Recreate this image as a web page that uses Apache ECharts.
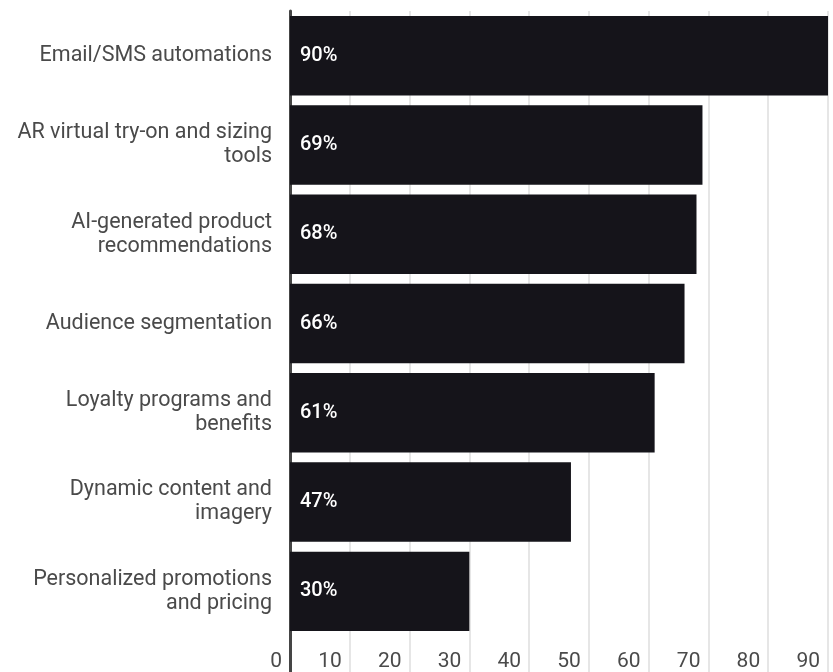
<!DOCTYPE html>
<html>
<head>
<meta charset="utf-8">
<script src="https://cdn.jsdelivr.net/npm/echarts@6/dist/echarts.min.js"></script>
<style>
  html, body { margin: 0; padding: 0; background: #ffffff; }
  #chart { width: 833px; height: 672px; }
</style>
</head>
<body>
<div id="chart"></div>
<script>
// Share of respondents using each personalization tactic (%)
const categories = [
  'Email/SMS automations',
  'AR virtual try-on and sizing\ntools',
  'AI-generated product\nrecommendations',
  'Audience segmentation',
  'Loyalty programs and\nbenefits',
  'Dynamic content and\nimagery',
  'Personalized promotions\nand pricing'
];
const values = [90, 69, 68, 66, 61, 47, 30];
const axisMin = 0;
const axisMax = 90;
const axisStep = 10;

const FONT = 'Roboto, "Noto Sans", sans-serif';
const AXIS_DARK = '#454545';
const TEXT_GREY = '#4a4a4a';
const GRID_LIGHT = '#dedede';
const BAR_COLOR = '#15141a';

const chart = echarts.init(document.getElementById('chart'), null, { renderer: 'canvas' });

chart.setOption({
  backgroundColor: '#ffffff',
  animation: false,
  grid: [
    { left: 290, right: 5, top: 11, bottom: 36 },
    { left: 290, right: 5, top: 636, bottom: 0 }
  ],
  xAxis: [
    {
      gridIndex: 0,
      type: 'value',
      min: axisMin,
      max: axisMax,
      interval: axisStep,
      axisLine: { show: false },
      axisTick: { show: false },
      axisLabel: { show: false },
      splitLine: { show: true, lineStyle: { color: GRID_LIGHT, width: 1.5 } }
    },
    {
      gridIndex: 1,
      type: 'value',
      min: axisMin,
      max: axisMax,
      interval: axisStep,
      position: 'bottom',
      axisLine: { show: false },
      axisTick: { show: false },
      axisLabel: {
        show: true,
        inside: true,
        margin: 0,
        align: 'right',
        padding: [0, 8, 0, 0],
        color: TEXT_GREY,
        fontFamily: FONT,
        fontSize: 21
      },
      splitLine: { show: true, lineStyle: { color: GRID_LIGHT, width: 1.5 } }
    }
  ],
  yAxis: [
    {
      gridIndex: 0,
      type: 'category',
      inverse: true,
      data: categories,
      axisLine: { show: true, lineStyle: { color: AXIS_DARK, width: 3 } },
      axisTick: { show: false },
      axisLabel: {
        margin: 18,
        color: TEXT_GREY,
        fontFamily: FONT,
        fontSize: 21.5,
        lineHeight: 24,
        align: 'right',
        padding: [6, 0, 0, 0]
      }
    },
    {
      gridIndex: 1,
      type: 'category',
      data: [''],
      axisLine: { show: true, lineStyle: { color: AXIS_DARK, width: 3 } },
      axisTick: { show: false },
      axisLabel: { show: false }
    }
  ],
  series: [
    {
      type: 'bar',
      xAxisIndex: 0,
      yAxisIndex: 0,
      data: values,
      barCategoryGap: '11%',
      itemStyle: { color: BAR_COLOR },
      label: {
        show: true,
        position: 'insideLeft',
        distance: 10,
        color: '#ffffff',
        fontFamily: FONT,
        fontSize: 20,
        fontWeight: 500,
        formatter: p => p.value + '%'
      }
    }
  ]
});
</script>
</body>
</html>
